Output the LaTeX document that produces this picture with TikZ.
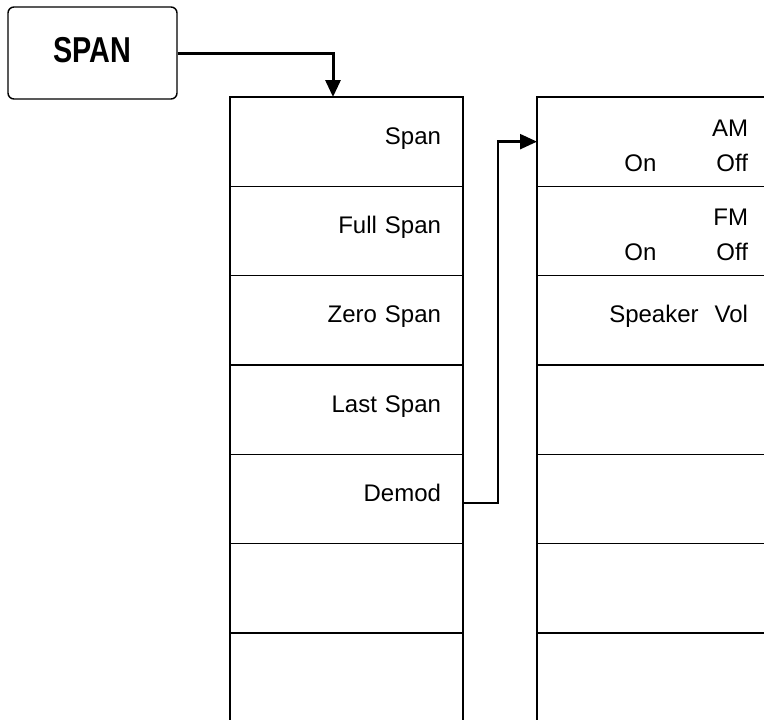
\documentclass[tikz,border=0pt]{standalone}
\usepackage{fontspec}
\setmainfont{Liberation Sans}
\newfontfamily\hardkeyfont{Liberation Sans}[FakeStretch=0.8]
\usetikzlibrary{positioning,arrows.meta}

\begin{document}
\begin{tikzpicture}[
    x=1pt, y=-1pt,
    font=\fontsize{24}{35}\selectfont,
    hardkey/.style={draw, line width=1.4pt, rounded corners=6pt,
                    minimum width=169pt, minimum height=92pt, text depth=6pt,
                    font=\hardkeyfont\fontsize{36}{40}\selectfont\bfseries},
    key/.style={draw, line width=1.4pt, outer sep=0pt, inner sep=0pt,
                minimum width=233pt, minimum height=89.3pt,
                text width=189pt, align=right, text height=10pt, text depth=5pt},
    pair/.style={text depth=21pt},
    op/.style={-{Triangle[width=15pt,length=17pt]}, line width=3pt},
  ]
  \useasboundingbox (0,0) rectangle (764,720);
  \clip (0,0) rectangle (764,720);

  % --- Front panel key ---
  \node[hardkey] (spankey) at (92.5,53) {SPAN};

  % --- Span menu (left) ---
  \node[key] (span) at (346.5,141.65) {Span};
  \node[key, below=0pt of span] (fullspan) {Full Span};
  \node[key, below=0pt of fullspan] (zerospan) {Zero Span};
  \node[key, below=0pt of zerospan] (lastspan) {Last Span};
  \node[key, below=0pt of lastspan] (demod) {Demod};
  \node[key, below=0pt of demod] (spansix) {};
  \node[key, below=0pt of spansix] (spanseven) {};
  \draw[op] (spankey.east) -| ([xshift=-13.5pt]span.north);

  % --- Demod menu (right) ---
  \node[key, pair, right=74pt of span] (am) {AM\\On\hspace{60pt}Off};
  \node[key, pair, below=0pt of am] (fm) {FM\\On\hspace{60pt}Off};
  \node[key, below=0pt of fm] (speakervol) {Speaker\ \ Vol};
  \node[key, below=0pt of speakervol] (demodfour) {};
  \node[key, below=0pt of demodfour] (demodfive) {};
  \node[key, below=0pt of demodfive] (demodsix) {};
  \node[key, below=0pt of demodsix] (demodseven) {};
  \draw[op, line width=2.4pt] ([yshift=-4pt]demod.east) -- ++(35,0) |- (am.west);
\end{tikzpicture}
\end{document}
